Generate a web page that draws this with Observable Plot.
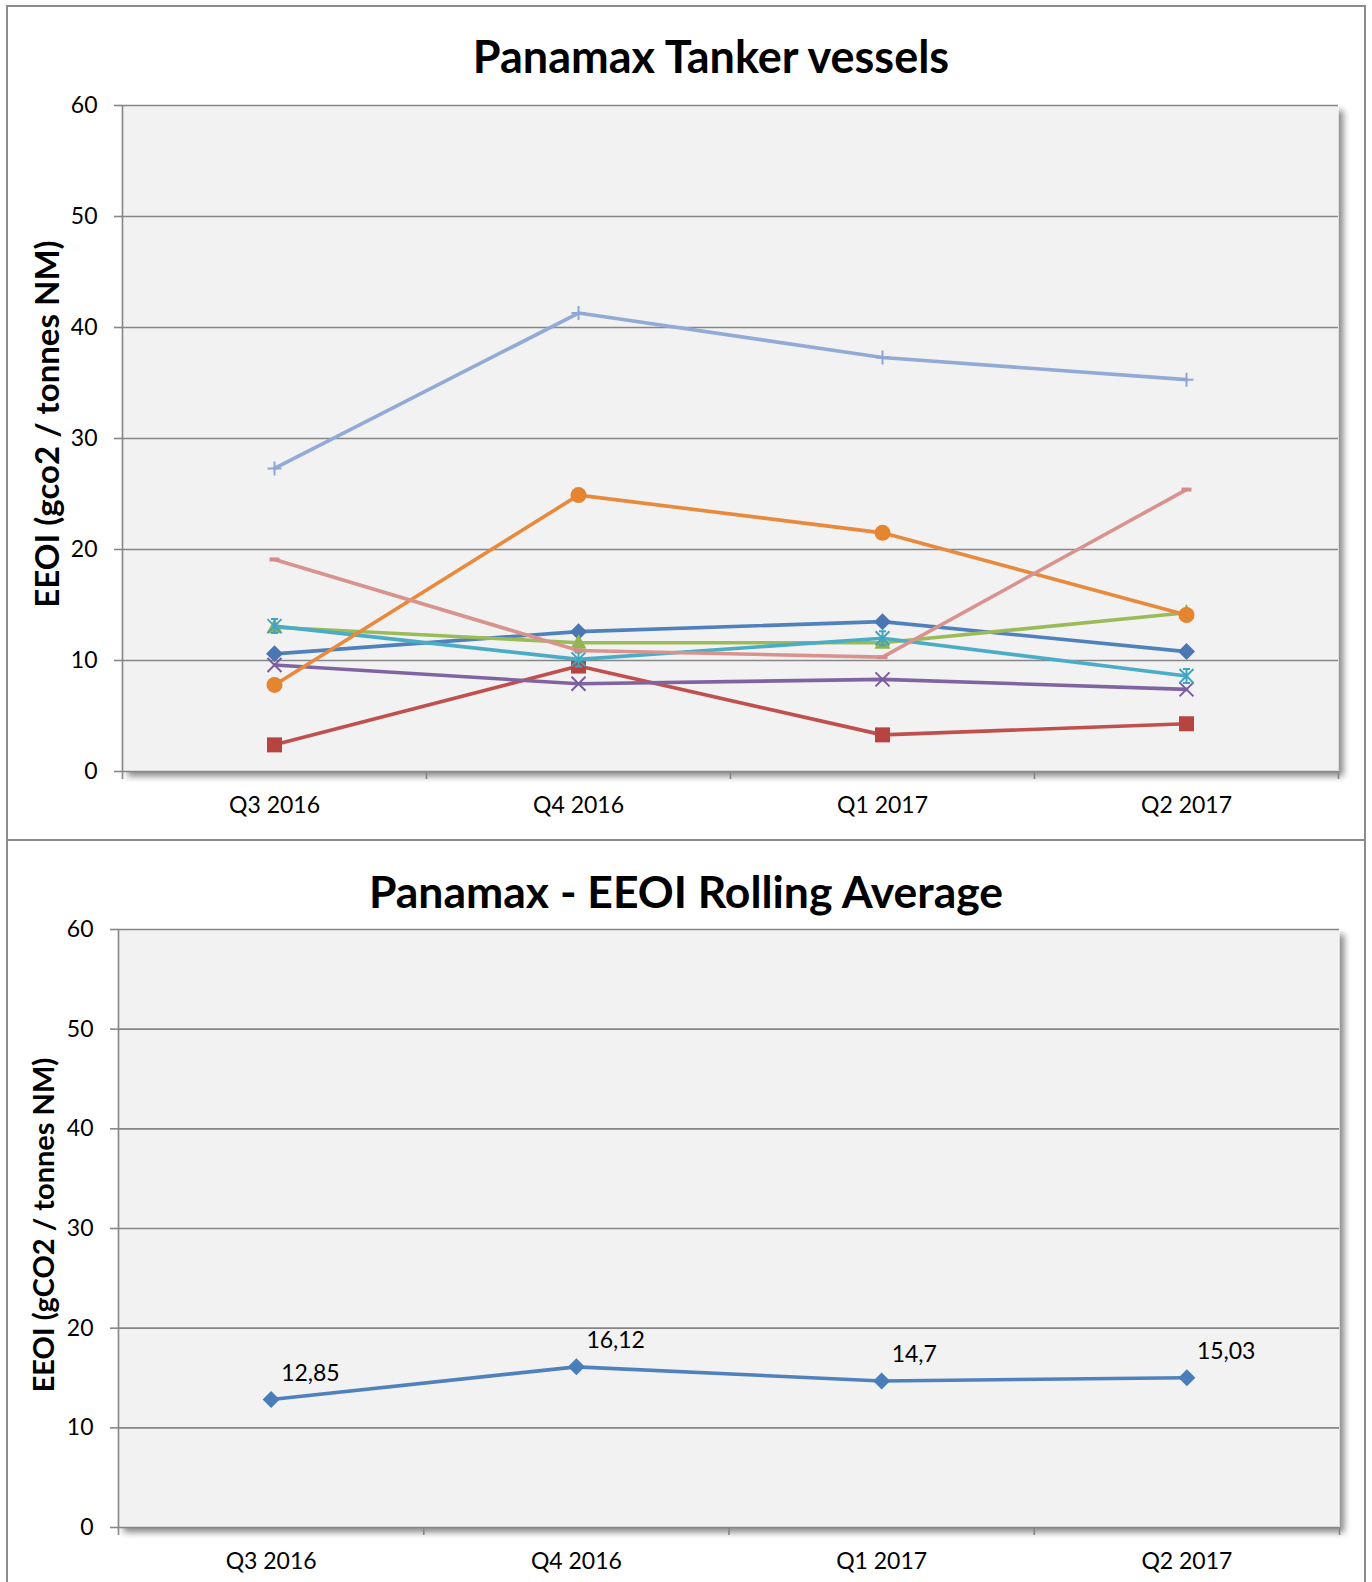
<!DOCTYPE html>
<html>
<head>
<meta charset="utf-8">
<script src="https://cdn.jsdelivr.net/npm/d3@7"></script>
<script src="https://cdn.jsdelivr.net/npm/@observablehq/plot@0.6"></script>
<style>
  html, body { margin: 0; padding: 0; background: #fff; }
  #page { position: relative; width: 1372px; height: 1582px; overflow: hidden; font-family: Lato, "Open Sans", sans-serif; color: #000; }
  .frame { position: absolute; left: 6px; top: 5px; width: 1356px; height: 1620px; border: 2px solid #8c8c8c; z-index: 3; pointer-events: none; }
  .divider { position: absolute; left: 6px; top: 839px; width: 1360px; height: 2px; background: #8c8c8c; z-index: 3; }
  .title { position: absolute; left: 0; width: 1372px; text-align: center; font-weight: 700; white-space: nowrap; line-height: 1; }
  .ylabel { position: absolute; font-weight: 700; white-space: nowrap; line-height: 1; transform: translate(-50%, -50%) rotate(-90deg); }
  .chart { position: absolute; left: 0; }
</style>
</head>
<body>
<div id="page">
  <div class="frame"></div>
  <div class="divider"></div>
  <div class="title" style="top:34px; font-size:45px; left:-2px; width:1426px;">Panamax Tanker vessels</div>
  <div class="title" style="top:869px; font-size:44.5px;">Panamax - EEOI Rolling Average</div>
  <div class="ylabel" style="left:46px; top:424px; font-size:33px;">EEOI (gco2 / tonnes NM)</div>
  <div class="ylabel" style="left:42px; top:1225px; font-size:29px;">EEOI (gCO2 / tonnes NM)</div>
  <div class="chart" id="c1" style="top:80px;"></div>
  <div class="chart" id="c2" style="top:900px;"></div>
</div>
<script>
// Reporting quarters and axis ticks
const quarters = ["Q3 2016", "Q4 2016", "Q1 2017", "Q2 2017"];
const yTicks = [0, 10, 20, 30, 40, 50, 60];

// EEOI per vessel, one value per quarter
const vessel1 = [10.6, 12.6, 13.5, 10.8];
const vessel2 = [2.4, 9.5, 3.3, 4.3];
const vessel3 = [13.0, 11.6, 11.6, 14.3];
const vessel4 = [9.6, 7.9, 8.3, 7.4];
const vessel5 = [13.1, 10.1, 12.0, 8.6];
const vessel6 = [7.8, 24.9, 21.5, 14.1];
const vessel7 = [27.3, 41.3, 37.3, 35.3];
const vessel8 = [19.1, 10.9, 10.3, 25.4];

// Fleet rolling average
const rollingAverage = [12.85, 16.12, 14.7, 15.03];

// Marker shapes (size is Plot's symbol area, π r²)
const rad = size => Math.sqrt(size / Math.PI);
const symDiamond = { draw(c, size) { const s = rad(size); c.moveTo(0, -s); c.lineTo(s, 0); c.lineTo(0, s); c.lineTo(-s, 0); c.closePath(); } };
const symSquare = { draw(c, size) { const s = rad(size); c.rect(-s, -s, 2 * s, 2 * s); } };
const symTriangle = { draw(c, size) { const s = rad(size); c.moveTo(0, -s * 1.1); c.lineTo(s, s * 0.75); c.lineTo(-s, s * 0.75); c.closePath(); } };
const symTimes = { draw(c, size) { const s = rad(size); c.moveTo(-s, -s); c.lineTo(s, s); c.moveTo(-s, s); c.lineTo(s, -s); } };
const symStar = { draw(c, size) { const s = rad(size); c.moveTo(-s, -s); c.lineTo(s, s); c.moveTo(-s, s); c.lineTo(s, -s); c.moveTo(0, -s); c.lineTo(0, s); c.moveTo(-s * 0.5, -s); c.lineTo(s * 0.5, -s); c.moveTo(-s * 0.5, s); c.lineTo(s * 0.5, s); } };
const symCircle = { draw(c, size) { const s = rad(size); c.moveTo(s, 0); c.arc(0, 0, s, 0, 2 * Math.PI); } };
const symPlus = { draw(c, size) { const s = rad(size); c.moveTo(-s, 0); c.lineTo(s, 0); c.moveTo(0, -s); c.lineTo(0, s); } };
const symDash = { draw(c, size) { const s = rad(size); c.rect(-s, -s * 0.4, 2 * s, s * 0.8); } };

const series = [
  { values: vessel1, line: "#4f81bd", mark: "#4a77b3", symbol: symDiamond, r: 8.5, filled: true },
  { values: vessel2, line: "#c0504d", mark: "#b8443f", symbol: symSquare, r: 7.5, filled: true },
  { values: vessel3, line: "#9bbb59", mark: "#92b550", symbol: symTriangle, r: 8, filled: true },
  { values: vessel4, line: "#8064a2", mark: "#7a5c9e", symbol: symTimes, r: 7, filled: false },
  { values: vessel5, line: "#4bacc6", mark: "#3fa5c0", symbol: symStar, r: 7, filled: false },
  { values: vessel6, line: "#e8893c", mark: "#e5852f", symbol: symCircle, r: 8, filled: true },
  { values: vessel7, line: "#92aad6", mark: "#8ea6d4", symbol: symPlus, r: 7, filled: false },
  { values: vessel8, line: "#d9938f", mark: "#d88c88", symbol: symDash, r: 5, filled: true }
];

const axisGray = "#868686";
const textStyle = { fontFamily: "Lato, 'Open Sans', sans-serif", fontSize: "23px", color: "#000", background: "transparent", overflow: "visible" };

function frameMarks() {
  return [
    Plot.frame({ fill: "#f2f2f2", stroke: null }),
    Plot.gridY(yTicks, { stroke: axisGray, strokeOpacity: 1, strokeWidth: 1.6 }),
    Plot.ruleX([-0.5], { stroke: axisGray, strokeWidth: 1.6 }),
    Plot.axisY(yTicks, { tickSize: 8, tickPadding: 17, stroke: axisGray, strokeWidth: 1.6, fill: "#000", fontSize: 23, tickFormat: d => String(d) }),
    Plot.axisX([-0.5, 0.5, 1.5, 2.5, 3.5], { tickSize: 8, stroke: axisGray, strokeWidth: 1.6, tickFormat: () => "" }),
    Plot.axisX([0, 1, 2, 3], { tickSize: 0, tickPadding: 25, fill: "#000", fontSize: 23, tickFormat: i => quarters[i] })
  ];
}

function addShadow(svg, id) {
  const sel = d3.select(svg);
  const f = sel.insert("defs", ":first-child").append("filter")
    .attr("id", id).attr("x", "-5%").attr("y", "-5%").attr("width", "115%").attr("height", "115%");
  f.append("feDropShadow").attr("dx", 5).attr("dy", 5).attr("stdDeviation", 3)
    .attr("flood-color", "#000").attr("flood-opacity", 0.45);
  const fr = svg.querySelector('[aria-label="frame"]');
  if (fr) fr.setAttribute("filter", `url(#${id})`);
}

// Chart 1: vessels
const marks1 = [...frameMarks()];
for (const s of series) {
  const data = s.values.map((v, i) => ({ i, v }));
  marks1.push(Plot.line(data, { x: "i", y: "v", stroke: s.line, strokeWidth: 3.6, strokeLinejoin: "round", strokeLinecap: "round" }));
  marks1.push(Plot.dot(data, s.filled
    ? { x: "i", y: "v", symbol: s.symbol, r: s.r, fill: s.mark, stroke: "none" }
    : { x: "i", y: "v", symbol: s.symbol, r: s.r, fill: "none", stroke: s.mark, strokeWidth: 2 }));
}

const chart1 = Plot.plot({
  width: 1372, height: 760,
  marginLeft: 122, marginRight: 34, marginTop: 25, marginBottom: 69,
  style: textStyle,
  x: { type: "linear", domain: [-0.5, 3.5], label: null, axis: null },
  y: { domain: [0, 60], label: null, axis: null },
  marks: marks1
});
addShadow(chart1, "shadow1");
document.getElementById("c1").append(chart1);

// Chart 2: rolling average
const avgData = rollingAverage.map((v, i) => ({ i, v }));
const chart2 = Plot.plot({
  width: 1372, height: 682,
  marginLeft: 118, marginRight: 33, marginTop: 29, marginBottom: 55,
  style: textStyle,
  x: { type: "linear", domain: [-0.5, 3.5], label: null, axis: null },
  y: { domain: [0, 60], label: null, axis: null },
  marks: [
    ...frameMarks(),
    Plot.line(avgData, { x: "i", y: "v", stroke: "#4f81bd", strokeWidth: 3.6, strokeLinejoin: "round" }),
    Plot.dot(avgData, { x: "i", y: "v", symbol: symDiamond, r: 8.5, fill: "#4a7ebb", stroke: "none" }),
    Plot.text(avgData, { x: "i", y: "v", text: d => String(d.v).replace(".", ","), dx: 10, dy: -26, textAnchor: "start", fill: "#000", fontSize: 23 })
  ]
});
addShadow(chart2, "shadow2");
document.getElementById("c2").append(chart2);
</script>
</body>
</html>
